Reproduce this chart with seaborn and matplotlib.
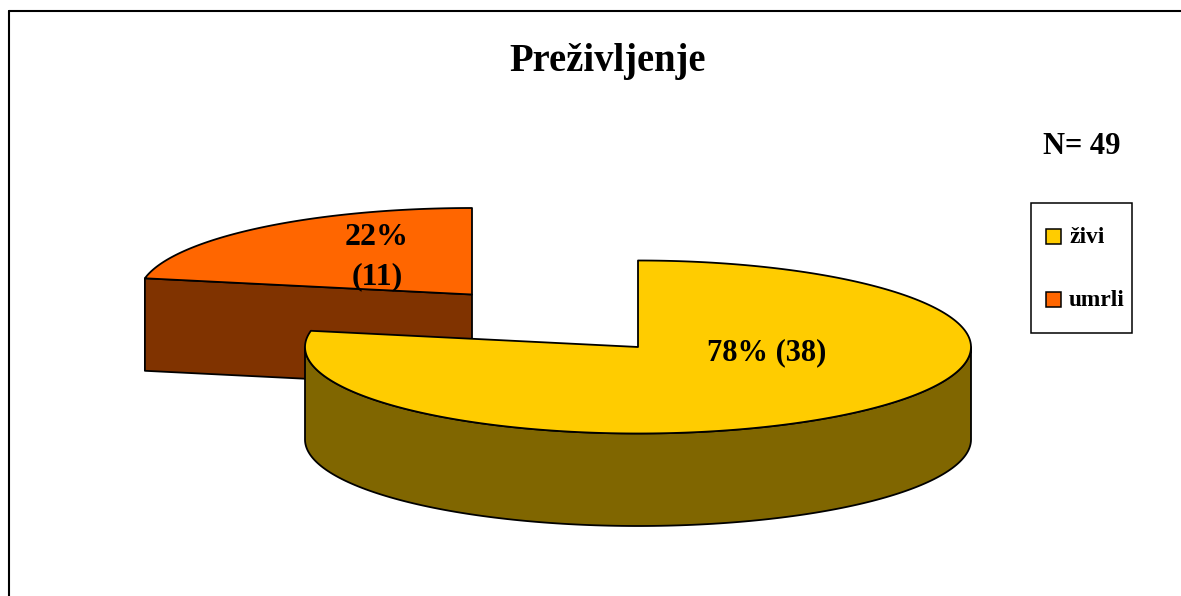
import numpy as np
import matplotlib
matplotlib.use("Agg")
import matplotlib.pyplot as plt
from matplotlib.patches import Polygon, Rectangle
import seaborn as sns

categories = ["živi", "umrli"]
percents = [78, 22]
counts = [38, 11]
percent_labels = ["78% (38)", "22%\n(11)"]
title = "Preživljenje"
note = "N= 49"
top_colors = ["#FFCC00", "#FF6600"]
side_colors = ["#806600", "#803300"]

sns.set_theme(style="white")
plt.rcParams["font.family"] = ["Liberation Serif", "DejaVu Serif"]

W, H = 1181, 596
fig = plt.figure(figsize=(W / 100, H / 100), dpi=100, facecolor="white")
ax = fig.add_axes([0, 0, 1, 1])
ax.set_xlim(0, W)
ax.set_ylim(H, 0)
ax.axis("off")

RX, RY, DEPTH = 333, 86.5, 92.5
centers = [(638, 347), (472, 294.5)]
shares = np.array(percents) / sum(percents)
edges = np.concatenate([[0], np.cumsum(shares)]) * 2 * np.pi


def pt(c, a, dz=0):
    a = np.asarray(a)
    return np.column_stack([c[0] + RX * np.sin(a), c[1] - RY * np.cos(a) + dz])


def add(points, color, z):
    ax.add_patch(Polygon(points, closed=True, fc=color, ec="black", lw=1.3,
                         joinstyle="round", zorder=z))


for i in [1, 0]:
    c = centers[i]
    a0, a1 = edges[i], edges[i + 1]
    z = 2 if i == 1 else 5
    apex = np.array([c])
    if i == 1:
        e = pt(c, [a0])
        wall = np.vstack([apex, e, e + [0, DEPTH], apex + [0, DEPTH]])
        add(wall, side_colors[i], z)
    else:
        vis = np.linspace(np.pi / 2, 1.5 * np.pi, 160)
        rim = np.vstack([pt(c, vis), pt(c, vis[::-1], DEPTH)])
        add(rim, side_colors[i], z)
    arc = np.linspace(a0, a1, 240)
    add(np.vstack([apex, pt(c, arc)]), top_colors[i], z + 1)

ax.text(608, 62, title, ha="center", va="center", fontsize=27.8, fontweight="bold", color="black")
ax.text(1082, 146, note, ha="center", va="center", fontsize=22, fontweight="bold", color="black")
ax.text(767, 353, percent_labels[0], ha="center", va="center", fontsize=22, fontweight="bold", color="black", zorder=10)
ax.text(377, 257, percent_labels[1], ha="center", va="center", fontsize=23, fontweight="bold", color="black",
        linespacing=1.48, zorder=10)

ax.plot([9.2, 9.2], [H + 5, 11], color="black", lw=1.5, zorder=1)
ax.plot([9.2, W + 5], [11, 11], color="black", lw=1.5, zorder=1)

ax.add_patch(Rectangle((1030.5, 202.5), 101.5, 130.5, fc="white", ec="black", lw=1.1, zorder=3))
for y, lab, col in zip([236, 299.5], categories, top_colors):
    ax.add_patch(Rectangle((1046, y - 7.5), 15, 15, fc=col, ec="black", lw=1.1, zorder=4))
    ax.text(1069, y + 1.5, lab, ha="left", va="center", fontsize=16.8, fontweight="bold", color="black", zorder=4)

fig.savefig("out.png", dpi=100, facecolor="white")
